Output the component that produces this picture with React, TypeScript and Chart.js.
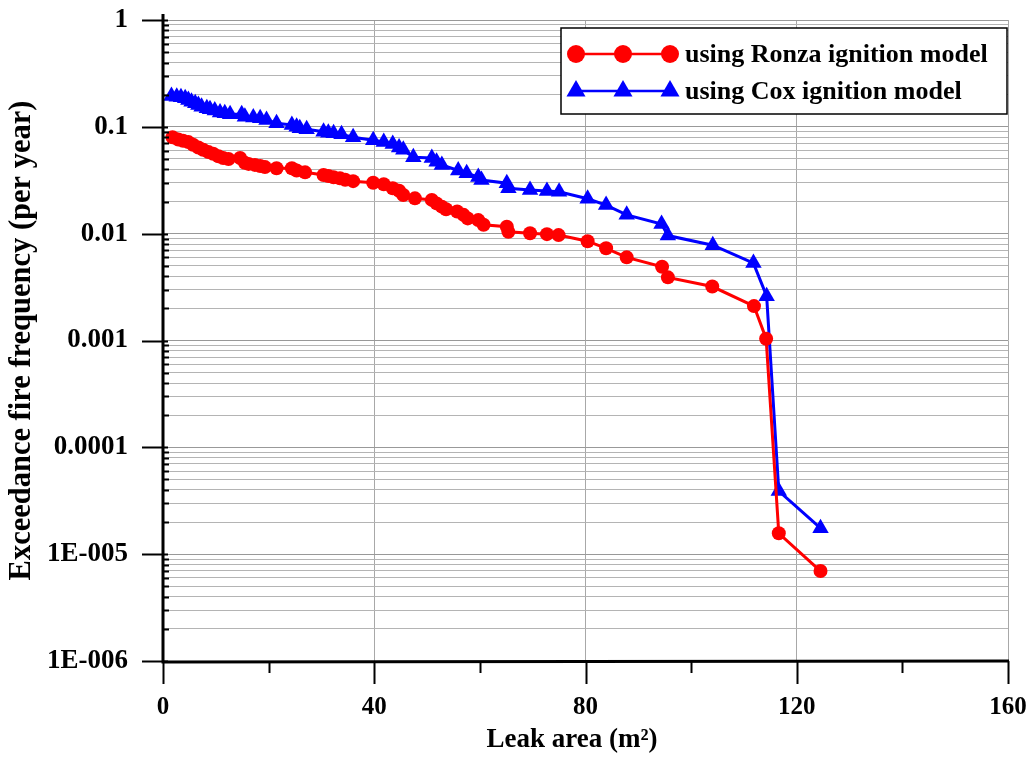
import React, { useEffect, useRef } from "react";
import { Chart, registerables } from "chart.js";

Chart.register(...registerables);

// Leak area (m²) and exceedance fire frequency (per year)
const ronzaX = [1.8, 2.9, 3.8, 4.8, 5.7, 6.7, 7.6, 8.6, 9.5, 10.5, 11.4, 12.4, 14.6, 15.5, 16.2, 17.4, 18.4, 19.3, 21.5, 24.4, 25.3, 26.9, 30.4, 31.3, 32.3, 33.5, 34.5, 36.0, 39.8, 41.8, 43.5, 44.7, 45.5, 47.7, 50.9, 51.8, 52.8, 53.6, 55.7, 56.9, 57.7, 59.7, 60.7, 65.1, 65.4, 69.5, 72.7, 74.9, 80.4, 83.9, 87.8, 94.5, 95.6, 104.0, 111.9, 114.2, 116.6, 124.5];
const ronzaY = [0.080, 0.076, 0.074, 0.072, 0.068, 0.064, 0.061, 0.058, 0.056, 0.053, 0.051, 0.050, 0.051, 0.046, 0.045, 0.044, 0.043, 0.042, 0.041, 0.041, 0.039, 0.0375, 0.0354, 0.0347, 0.0337, 0.033, 0.032, 0.031, 0.030, 0.029, 0.0266, 0.0252, 0.023, 0.0214, 0.0207, 0.0192, 0.0179, 0.0169, 0.0161, 0.0150, 0.0139, 0.0134, 0.0121, 0.0116, 0.0104, 0.0101, 0.0099, 0.0097, 0.0085, 0.0073, 0.0060, 0.0049, 0.0039, 0.0032, 0.0021, 0.00104, 0.0000157, 0.00000695];

const coxX = [1.6, 2.6, 3.4, 4.2, 4.8, 5.4, 6.1, 6.7, 7.3, 8.3, 8.9, 9.8, 10.8, 11.7, 12.7, 14.9, 15.5, 17.1, 18.4, 19.6, 21.5, 24.4, 25.3, 25.9, 27.2, 30.4, 31.3, 32.3, 33.8, 36.0, 39.8, 41.8, 43.5, 44.7, 45.5, 47.4, 50.9, 51.8, 52.8, 55.9, 57.5, 59.7, 60.3, 65.1, 65.4, 69.5, 72.7, 75.0, 80.4, 83.9, 87.8, 94.4, 95.6, 104.1, 111.8, 114.3, 116.6, 124.5];
const coxY = [0.194, 0.191, 0.189, 0.185, 0.178, 0.172, 0.166, 0.160, 0.154, 0.149, 0.146, 0.142, 0.136, 0.134, 0.131, 0.131, 0.124, 0.122, 0.120, 0.116, 0.108, 0.104, 0.100, 0.097, 0.095, 0.090, 0.088, 0.087, 0.085, 0.080, 0.075, 0.072, 0.069, 0.064, 0.061, 0.052, 0.051, 0.047, 0.044, 0.039, 0.0367, 0.034, 0.0318, 0.0297, 0.0266, 0.0256, 0.0251, 0.0247, 0.0212, 0.0185, 0.0150, 0.0123, 0.0096, 0.0078, 0.0053, 0.0026, 0.000039, 0.0000175];

const seriesLabels = ["using Ronza ignition model", "using Cox ignition model"];
const xTitle = "Leak area (m²)";
const yTitle = "Exceedance fire frequency (per year)";
const xTickValues = [0, 20, 40, 60, 80, 100, 120, 140, 160];
const xLabelledTicks = [0, 40, 80, 120, 160];
const yDecades = [1e-6, 1e-5, 1e-4, 1e-3, 1e-2, 1e-1, 1];
const yDecadeLabels = ["1E-006", "1E-005", "0.0001", "0.001", "0.01", "0.1", "1"];

const FONT = "Liberation Serif";

function buildYTicks() {
  const out: { value: number; major: boolean }[] = [];
  for (let i = 0; i < yDecades.length; i++) {
    const d = yDecades[i];
    out.push({ value: d, major: true });
    if (i < yDecades.length - 1) {
      for (let m = 2; m <= 9; m++) out.push({ value: d * m, major: false });
    }
  }
  return out;
}

function decadeIndex(v: number) {
  for (let i = 0; i < yDecades.length; i++) {
    if (Math.abs(v - yDecades[i]) / yDecades[i] < 1e-6) return i;
  }
  return -1;
}

const axesAndLegend = {
  id: "axesAndLegend",
  afterDraw(chart: any) {
    const ctx = chart.ctx;
    const a = chart.chartArea;
    const xs = chart.scales.x;
    const ys = chart.scales.y;
    ctx.save();
    ctx.strokeStyle = "#000";
    // axis lines
    ctx.lineWidth = 3;
    ctx.beginPath();
    ctx.moveTo(a.left, a.top - 6);
    ctx.lineTo(a.left, a.bottom + 1);
    ctx.lineTo(a.right + 1, a.bottom);
    ctx.stroke();
    // y ticks
    ctx.lineWidth = 2;
    for (const t of buildYTicks()) {
      const y = Math.round(ys.getPixelForValue(t.value)) + 0.5;
      ctx.beginPath();
      if (t.major) {
        ctx.moveTo(a.left - 21, y);
        ctx.lineTo(a.left + 5, y);
      } else {
        ctx.moveTo(a.left, y);
        ctx.lineTo(a.left + 6, y);
      }
      ctx.stroke();
    }
    // x ticks
    for (const v of xTickValues) {
      const x = Math.round(xs.getPixelForValue(v)) + 0.5;
      const major = xLabelledTicks.includes(v);
      ctx.beginPath();
      ctx.moveTo(x, a.bottom);
      ctx.lineTo(x, a.bottom + (major ? 23 : 12));
      ctx.stroke();
    }
    // x axis title
    ctx.fillStyle = "#000";
    ctx.font = `bold 27px "${FONT}"`;
    ctx.textAlign = "center";
    ctx.textBaseline = "middle";
    ctx.fillText(xTitle, 572, 740);
    // legend
    const bx = 561, by = 28, bw = 446, bh = 86;
    ctx.fillStyle = "#fff";
    ctx.fillRect(bx, by, bw, bh);
    ctx.lineWidth = 1.5;
    ctx.strokeStyle = "#000";
    ctx.strokeRect(bx, by, bw, bh);
    const rows = [
      { y: 54, color: "#ff0000", shape: "circle" },
      { y: 91, color: "#0000ff", shape: "triangle" },
    ];
    rows.forEach((r, i) => {
      ctx.strokeStyle = r.color;
      ctx.fillStyle = r.color;
      ctx.lineWidth = 2.5;
      ctx.beginPath();
      ctx.moveTo(576, r.y);
      ctx.lineTo(671, r.y);
      ctx.stroke();
      for (const mx of [576, 623, 670]) {
        ctx.beginPath();
        if (r.shape === "circle") {
          ctx.arc(mx, r.y, 9, 0, Math.PI * 2);
        } else {
          const rad = 11;
          ctx.moveTo(mx, r.y - rad);
          ctx.lineTo(mx + rad * 0.866, r.y + rad * 0.5);
          ctx.lineTo(mx - rad * 0.866, r.y + rad * 0.5);
          ctx.closePath();
        }
        ctx.fill();
      }
      ctx.fillStyle = "#000";
      ctx.font = `bold 26px "${FONT}"`;
      ctx.textBaseline = "middle";
      ctx.textAlign = "left";
      ctx.fillText(seriesLabels[i], 685, r.y + 1);
    });
    ctx.restore();
  },
};

export default function App() {
  const ref = useRef<HTMLCanvasElement | null>(null);
  useEffect(() => {
    if (!ref.current) return;
    const chart = new Chart(ref.current, {
      type: "line",
      data: {
        datasets: [
          {
            label: seriesLabels[0],
            data: ronzaX.map((x, i) => ({ x, y: ronzaY[i] })),
            borderColor: "#ff0000",
            backgroundColor: "#ff0000",
            borderWidth: 3,
            pointStyle: "circle",
            pointRadius: 7,
            pointBorderWidth: 0,
            tension: 0,
          },
          {
            label: seriesLabels[1],
            data: coxX.map((x, i) => ({ x, y: coxY[i] })),
            borderColor: "#0000ff",
            backgroundColor: "#0000ff",
            borderWidth: 3,
            pointStyle: "triangle",
            pointRadius: 9.5,
            pointBorderWidth: 0,
            tension: 0,
          },
        ],
      },
      options: {
        responsive: false,
        animation: false,
        layout: { padding: { left: 0, top: 20, right: 25, bottom: 0 } },
        plugins: { legend: { display: false }, tooltip: { enabled: false } },
        scales: {
          x: {
            type: "linear",
            min: 0,
            max: 160,
            afterBuildTicks: (s: any) => {
              s.ticks = xTickValues.map((v) => ({ value: v }));
            },
            afterFit: (s: any) => {
              s.height = 97;
              s.paddingLeft = 0;
              s.paddingRight = 0;
            },
            ticks: {
              autoSkip: false,
              maxRotation: 0,
              padding: 32,
              color: "#000",
              font: { family: FONT, weight: "bold", size: 25 },
              callback: (v: any) => (xLabelledTicks.includes(Number(v)) ? String(v) : ""),
            },
            grid: {
              drawTicks: false,
              color: (c: any) =>
                c.tick && xLabelledTicks.includes(c.tick.value) && c.tick.value !== 0
                  ? "#a8a8a8"
                  : "rgba(0,0,0,0)",
              lineWidth: 1,
            },
            border: { display: false },
            title: { display: false, text: xTitle },
          },
          y: {
            type: "logarithmic",
            min: 1e-6,
            max: 1,
            afterBuildTicks: (s: any) => {
              s.ticks = buildYTicks().map((t) => ({ value: t.value, major: t.major }));
            },
            afterFit: (s: any) => {
              s.width = 163;
              s.paddingTop = 0;
              s.paddingBottom = 0;
            },
            ticks: {
              autoSkip: false,
              padding: 35,
              color: "#000",
              font: { family: FONT, weight: "bold", size: 27 },
              callback: (v: any) => {
                const i = decadeIndex(Number(v));
                return i >= 0 ? yDecadeLabels[i] : "";
              },
            },
            grid: {
              drawTicks: false,
              color: (c: any) => (c.tick && decadeIndex(c.tick.value) >= 0 ? "#999999" : "#b4b4b4"),
              lineWidth: 1,
            },
            border: { display: false },
            title: {
              display: true,
              text: yTitle,
              color: "#000",
              font: { family: FONT, weight: "bold", size: 30.5, lineHeight: 1.2 },
              padding: { top: 4, bottom: 0 },
            },
          },
        },
      },
      plugins: [axesAndLegend],
    } as any);
    return () => chart.destroy();
  }, []);
  return (
    <div style={{ position: "absolute", left: 0, top: 0, width: 1033, height: 758, background: "#fff" }}>
      <canvas ref={ref} width={1033} height={758} />
    </div>
  );
}
